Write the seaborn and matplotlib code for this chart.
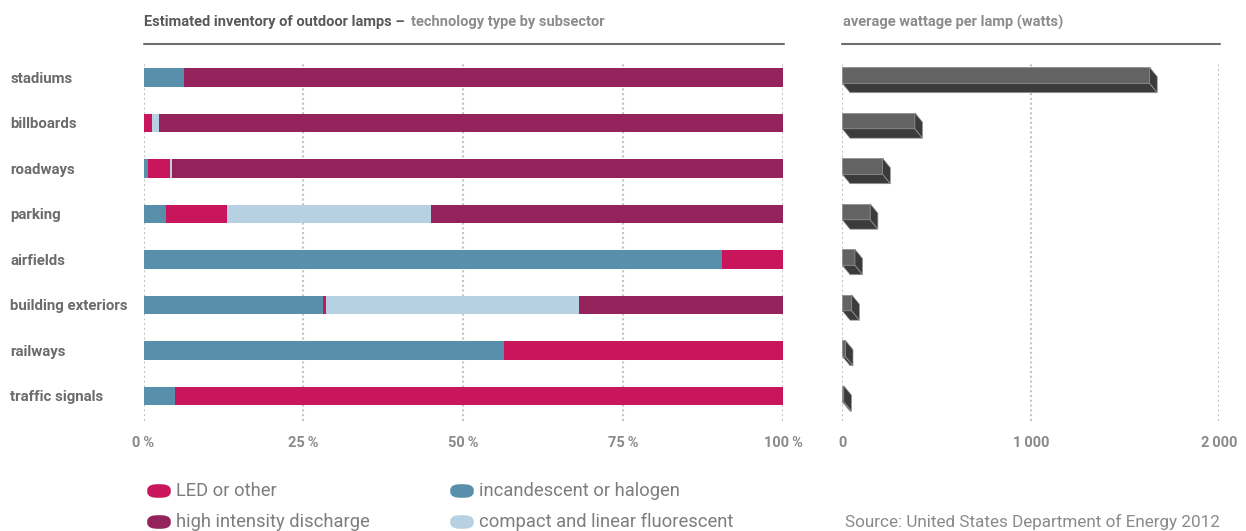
"""
Outdoor lamps chart: technology mix by subsector + average wattage per lamp.
"""

import numpy as np
import matplotlib.pyplot as plt
import seaborn as sns
from matplotlib.lines import Line2D
from matplotlib.patches import Polygon, FancyBboxPatch

# --- data -------------------------------------------------------------
categories = ['stadiums', 'billboards', 'roadways', 'parking', 'airfields',
              'building exteriors', 'railways', 'traffic signals']
# share of lamps (%), in stacking order left -> right
incandescent = [6.3, 0.0, 0.7, 3.5, 90.4, 28.1, 56.3, 5.0]
led = [0.0, 1.3, 3.5, 9.5, 9.6, 0.4, 43.7, 95.0]
fluorescent = [0.0, 1.1, 0.2, 31.9, 0.0, 39.6, 0.0, 0.0]
hid = [93.7, 97.6, 95.6, 55.1, 0.0, 31.9, 0.0, 0.0]
# average wattage per lamp (watts)
wattage = [1630, 385, 214, 148, 67, 50, 16, 8]

pct_ticks = [0, 25, 50, 75, 100]
pct_labels = ['0\u2009%', '25\u2009%', '50\u2009%', '75\u2009%', '100\u2009%']
watt_ticks = [0, 1000, 2000]
watt_labels = ['0', '1\u2009000', '2\u2009000']

C_LED = '#c8155c'
C_INC = '#588faa'
C_FLU = '#b7d1e3'
C_HID = '#94235c'
C_TOP = '#636363'
C_DARK = '#3b3b3b'

sns.set_style('white')
plt.rcParams['font.family'] = ['Roboto', 'DejaVu Sans']

W, H = 1246, 531
fig = plt.figure(figsize=(W / 100, H / 100), dpi=100)

ax_top, ax_bot = 62, 421
ax1 = fig.add_axes([143.5 / W, 1 - ax_bot / H, 639.5 / W, (ax_bot - ax_top) / H])
ax2 = fig.add_axes([842.3 / W, 1 - ax_bot / H, 377 / W, (ax_bot - ax_top) / H])

# --- stacked bars: draw cumulative totals from longest to shortest ----
cum = np.cumsum([incandescent, led, fluorescent, hid], axis=0)
layers = [(cum[3], C_HID), (cum[2], C_FLU), (cum[1], C_LED), (cum[0], C_INC)]
for vals, col in layers:
    sns.barplot(x=vals, y=categories, color=col, width=0.4, saturation=1,
                orient='h', ax=ax1, linewidth=0)

# --- wattage bars drawn as little 3D boxes ---------------------------
sns.barplot(x=wattage, y=categories, color=C_TOP, width=0.352, saturation=1,
            orient='h', ax=ax2, linewidth=0)

for ax in (ax1, ax2):
    ax.set_ylim(7.55, -0.34)
    ax.set_axisbelow(True)
    ax.grid(axis='x', color='#c4c4c4', linestyle=(0, (1, 1.3)), linewidth=1.5)
    ax.grid(axis='y', visible=False)
    for s in ax.spines.values():
        s.set_visible(False)
    ax.set_xlabel('')
    ax.set_ylabel('')
    ax.tick_params(axis='x', length=0, pad=11, labelsize=10.5, labelcolor='#8a8a8a')

ax1.set_xlim(0, 100)
ax1.set_xticks(pct_ticks)
ax1.set_xticklabels(pct_labels, fontweight='bold')
ax1.tick_params(axis='y', length=0, pad=96, labelsize=10.8, labelcolor='#6b6b6b')
for lab in ax1.get_yticklabels():
    lab.set_ha('left')
    lab.set_fontweight('bold')

ax2.set_xlim(0, 2000)
ax2.set_xticks(watt_ticks)
ax2.set_xticklabels(watt_labels, fontweight='bold')
ax2.set_yticks([])

dx = 7.7 * 2000 / 377       # depth of the box in data units
dy = 9.4 / 45.5
for p in ax2.patches:
    p.set_y(p.get_y() - 0.048)
    x0, x1 = p.get_x(), p.get_x() + p.get_width()
    y0, y1 = p.get_y(), p.get_y() + p.get_height()
    bottom = Polygon([(x0, y1), (x1, y1), (x1 + dx, y1 + dy), (x0 + dx, y1 + dy)],
                     closed=True, facecolor=C_DARK, edgecolor='#9a9a9a', linewidth=0.5)
    side = Polygon([(x1, y0), (x1 + dx, y0 + dy), (x1 + dx, y1 + dy), (x1, y1)],
                   closed=True, facecolor=C_DARK, edgecolor='#9a9a9a', linewidth=0.5)
    ax2.add_patch(bottom)
    ax2.add_patch(side)
    p.set_edgecolor('#8a8a8a')
    p.set_linewidth(0.5)

# --- headers ---------------------------------------------------------
fig.text(144 / W, 1 - 22 / H, 'Estimated inventory of outdoor lamps \u2013',
         fontsize=10.5, fontweight='bold', color='#595959', va='center')
fig.text(411 / W, 1 - 22 / H, 'technology type by subsector',
         fontsize=10.5, fontweight='bold', color='#8c8c8c', va='center')
fig.text(843 / W, 1 - 22 / H, 'average wattage per lamp (watts)',
         fontsize=10.5, fontweight='bold', color='#8c8c8c', va='center')
for xa, xb in [(143.5, 783.5), (842, 1220)]:
    fig.add_artist(Line2D([xa / W, xb / W], [1 - 44 / H] * 2,
                          color='#6e6e6e', linewidth=1.5))

# --- legend ----------------------------------------------------------
legend_items = [('LED or other', C_LED, 146, 491),
                ('incandescent or halogen', C_INC, 449, 491),
                ('high intensity discharge', C_HID, 146, 522),
                ('compact and linear fluorescent', C_FLU, 449, 522)]
for label, col, x, y in legend_items:
    fig.add_artist(FancyBboxPatch(((x + 4) / W, 1 - (y + 4) / H), 18 / W, 8 / H,
                                  boxstyle='round,pad=0,rounding_size=0.006',
                                  transform=fig.transFigure, facecolor=col,
                                  edgecolor=col, linewidth=4))
    fig.text((x + 30) / W, 1 - y / H, label, fontsize=13.2, color='#7d7d7d',
             va='center')

fig.text(1220 / W, 1 - 522 / H, 'Source: United States Department of Energy 2012',
         fontsize=12.3, color='#8a8a8a', va='center', ha='right')

fig.savefig('out.png', dpi=100)
